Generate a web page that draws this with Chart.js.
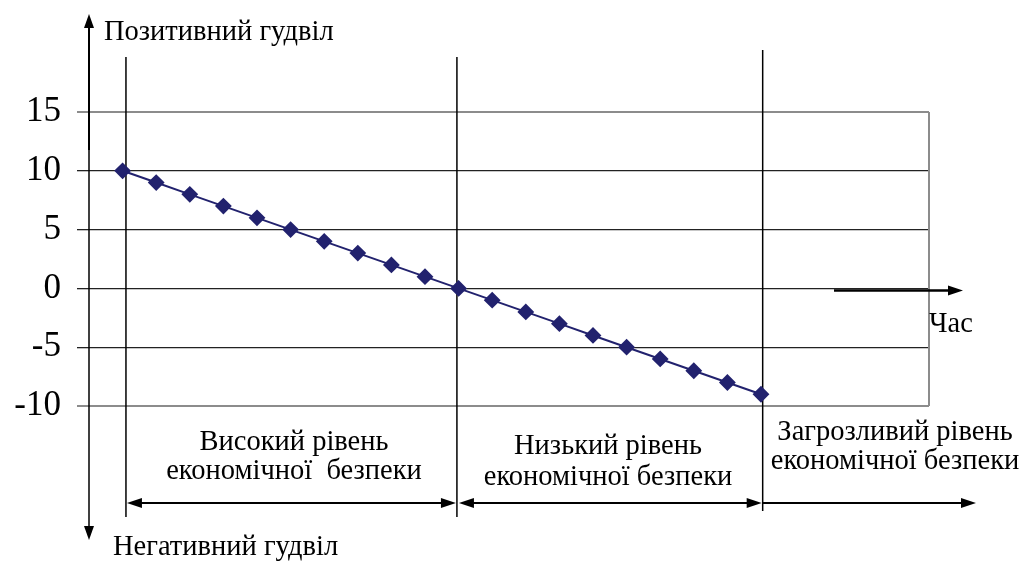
<!DOCTYPE html>
<html>
<head>
<meta charset="utf-8">
<script src="https://cdn.jsdelivr.net/npm/chart.js@4/dist/chart.umd.min.js"></script>
<style>
  html, body { margin: 0; padding: 0; background: #fff; }
  #wrap { width: 1021px; height: 561px; }
</style>
</head>
<body>
<div id="wrap"><canvas id="chart" width="1021" height="561"></canvas></div>
<script>
// time steps and goodwill values
const periods = [1, 2, 3, 4, 5, 6, 7, 8, 9, 10, 11, 12, 13, 14, 15, 16, 17, 18, 19, 20];
const goodwill = [10, 9, 8, 7, 6, 5, 4, 3, 2, 1, 0, -1, -2, -3, -4, -5, -6, -7, -8, -9];
const yTicks = [15, 10, 5, 0, -5, -10];
// borders between security zones (on the time axis)
const zoneBounds = [1.1, 10.95, 20.05];
const zoneLabels = [
    ['Високий рівень', 'економічної  безпеки'],
    ['Низький рівень', 'економічної безпеки'],
    ['Загрозливий рівень', 'економічної безпеки']
];

const serif = '"Liberation Serif", "DejaVu Serif", serif';

function arrowHead(ctx, x, y, dir) {
    ctx.beginPath();
    if (dir === 'up') { ctx.moveTo(x, y); ctx.lineTo(x - 5, y + 14); ctx.lineTo(x + 5, y + 14); }
    if (dir === 'down') { ctx.moveTo(x, y); ctx.lineTo(x - 5, y - 14); ctx.lineTo(x + 5, y - 14); }
    if (dir === 'right') { ctx.moveTo(x, y); ctx.lineTo(x - 15, y - 5); ctx.lineTo(x - 15, y + 5); }
    if (dir === 'left') { ctx.moveTo(x, y); ctx.lineTo(x + 15, y - 5); ctx.lineTo(x + 15, y + 5); }
    ctx.closePath();
    ctx.fill();
}

function line(ctx, x1, y1, x2, y2, w) {
    ctx.lineWidth = w;
    ctx.beginPath();
    ctx.moveTo(x1, y1);
    ctx.lineTo(x2, y2);
    ctx.stroke();
}

const decorPlugin = {
    id: 'decor',
    beforeDatasetsDraw(chart) {
        const { ctx, chartArea: a, scales: { x } } = chart;
        ctx.save();
        // right border of plot
        ctx.strokeStyle = '#8c8c8c';
        line(ctx, a.right, a.top, a.right, a.bottom, 2);
        // zone border lines
        ctx.strokeStyle = '#000';
        const xs = zoneBounds.map(v => x.getPixelForValue(v));
        line(ctx, xs[0], 57, xs[0], 517, 1.5);
        line(ctx, xs[1], 57, xs[1], 517, 1.5);
        line(ctx, xs[2], 50, xs[2], 511, 1.5);
        ctx.restore();
    },
    afterDraw(chart) {
        const { ctx, chartArea: a, scales: { x, y } } = chart;
        ctx.save();
        ctx.strokeStyle = '#000';
        ctx.fillStyle = '#000';
        // vertical goodwill axis
        const ax = a.left;
        line(ctx, ax, 22, ax, 150, 2);
        line(ctx, ax, 150, ax, 532, 1.5);
        arrowHead(ctx, ax, 540, 'down');
        arrowHead(ctx, ax, 14, 'up');
        // time arrow
        const y0 = y.getPixelForValue(0) + 2;
        line(ctx, 834, y0, 950, y0, 2.5);
        arrowHead(ctx, 963, y0, 'right');
        // zone arrows
        const xs = zoneBounds.map(v => x.getPixelForValue(v));
        const ay = 503;
        line(ctx, xs[0] + 10, ay, xs[1] - 10, ay, 2);
        arrowHead(ctx, xs[0] + 1, ay, 'left');
        arrowHead(ctx, xs[1] - 1, ay, 'right');
        line(ctx, xs[1] + 10, ay, xs[2] - 10, ay, 2);
        arrowHead(ctx, xs[1] + 2, ay, 'left');
        arrowHead(ctx, xs[2] - 1, ay, 'right');
        line(ctx, xs[2], ay, 965, ay, 2);
        arrowHead(ctx, 976, ay, 'right');

        // texts
        ctx.font = '28.5px ' + serif;
        ctx.textBaseline = 'middle';
        ctx.textAlign = 'left';
        ctx.fillText('Позитивний гудвіл', 104, 33);
        ctx.fillText('Негативний гудвіл', 113, 548);
        ctx.fillText('Час', 929, 325);
        ctx.textAlign = 'center';
        const centers = [294, 608, 895];
        const rowsY = [[443, 472], [447, 478], [433, 462]];
        zoneLabels.forEach((lbl, i) => {
            ctx.fillText(lbl[0], centers[i], rowsY[i][0]);
            ctx.fillText(lbl[1], centers[i], rowsY[i][1]);
        });
        ctx.restore();
    }
};

new Chart(document.getElementById('chart'), {
    type: 'line',
    data: {
        labels: periods,
        datasets: [{
            data: periods.map((p, i) => ({ x: p, y: goodwill[i] })),
            borderColor: '#22226e',
            backgroundColor: '#22226e',
            borderWidth: 2,
            pointStyle: 'rectRot',
            pointRadius: 7,
            pointHoverRadius: 7,
            tension: 0
        }]
    },
    options: {
        responsive: false,
        animation: false,
        events: [],
        layout: { padding: { top: 112, right: 92, bottom: 155, left: 0 } },
        plugins: { legend: { display: false }, tooltip: { enabled: false } },
        scales: {
            x: {
                type: 'linear',
                min: 0,
                max: 25,
                display: false
            },
            y: {
                min: -10,
                max: 15,
                afterFit(scale) { scale.width = 89; },
                afterBuildTicks(scale) { scale.ticks = yTicks.map(v => ({ value: v })); },
                border: { display: false },
                grid: {
                    color: ctx => (ctx.tick && (ctx.tick.value === 15 || ctx.tick.value === -10)) ? '#8c8c8c' : '#222',
                    lineWidth: ctx => (ctx.tick && (ctx.tick.value === 15 || ctx.tick.value === -10)) ? 2 : 1.3,
                    tickLength: 12,
                    drawTicks: true
                },
                ticks: {
                    color: '#000',
                    padding: 16,
                    font: { family: serif, size: 35 }
                }
            }
        }
    },
    plugins: [decorPlugin]
});
</script>
</body>
</html>
